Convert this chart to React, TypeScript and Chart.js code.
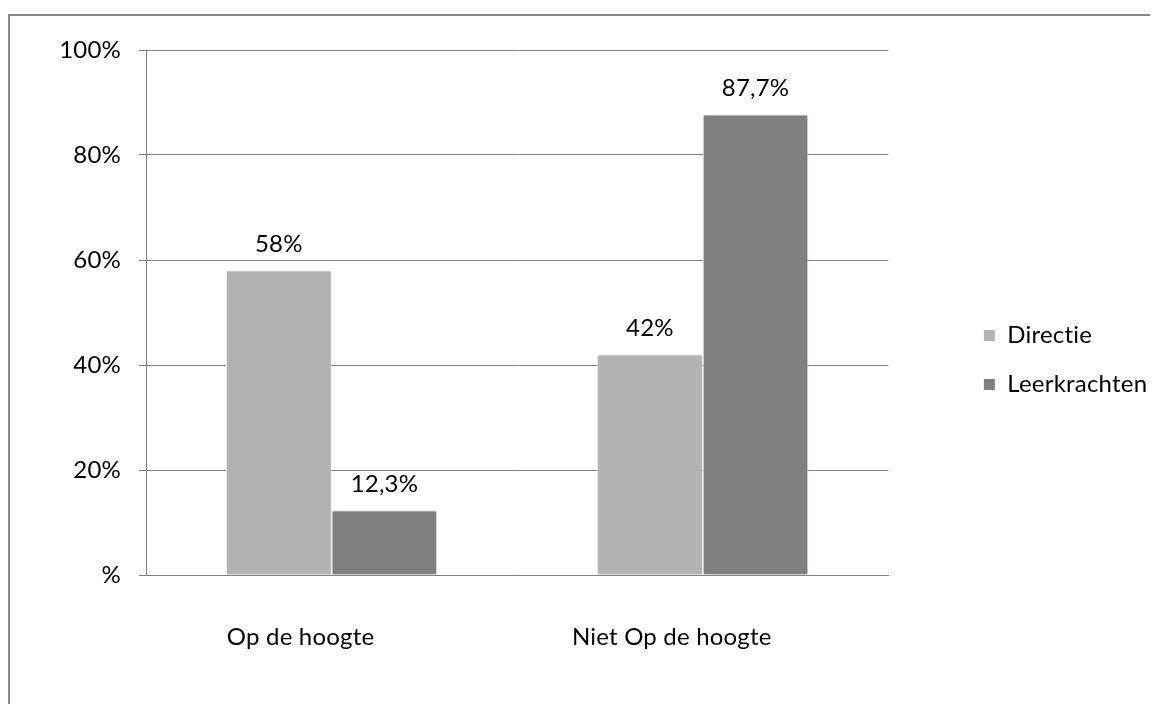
import React, { useEffect, useRef } from "react";
import { Chart, registerables } from "chart.js";

Chart.register(...registerables);

// Chart data
const categories = ["Op de hoogte", "Niet Op de hoogte"];
const seriesNames = ["Directie", "Leerkrachten"];
const directieValues = [58, 42];
const leerkrachtenValues = [12.3, 87.7];
const seriesColors = ["#b2b2b2", "#7f7f7f"];
const yTickValues = [0, 20, 40, 60, 80, 100];

const FONT = "Lato, 'Open Sans', sans-serif";

const formatPct = (v: number) => (v === 0 ? "%" : String(v).replace(".", ",") + "%");

// A touch of letter spacing keeps the font from forming "ti" ligatures
const textSpacing = {
  id: "textSpacing",
  beforeDraw(chart: any) {
    (chart.ctx as any).letterSpacing = "0.2px";
  },
};

// Soft shadow behind the bars plus value labels above each bar
const barDecor = {
  id: "barDecor",
  beforeDatasetsDraw(chart: any) {
    const ctx = chart.ctx;
    ctx.save();
    ctx.shadowColor = "rgba(0,0,0,0.28)";
    ctx.shadowBlur = 3;
    ctx.shadowOffsetX = 0;
    ctx.shadowOffsetY = 0;
  },
  afterDatasetsDraw(chart: any) {
    const ctx = chart.ctx;
    ctx.restore();
    ctx.save();
    ctx.font = `24px ${FONT}`;
    ctx.fillStyle = "#000";
    ctx.textAlign = "center";
    ctx.textBaseline = "middle";
    chart.data.datasets.forEach((ds: any, di: number) => {
      const meta = chart.getDatasetMeta(di);
      meta.data.forEach((bar: any, i: number) => {
        ctx.fillText(formatPct(ds.data[i]), bar.x, bar.y - 26);
      });
    });
    ctx.restore();
  },
};

export default function App() {
  const canvasRef = useRef<HTMLCanvasElement | null>(null);

  useEffect(() => {
    if (!canvasRef.current) return;
    const chart = new Chart(canvasRef.current, {
      type: "bar",
      data: {
        labels: categories,
        datasets: [
          {
            label: seriesNames[0],
            data: directieValues,
            backgroundColor: seriesColors[0],
            borderColor: "#ffffff",
            borderWidth: 1,
          },
          {
            label: seriesNames[1],
            data: leerkrachtenValues,
            backgroundColor: seriesColors[1],
            borderColor: "#ffffff",
            borderWidth: 1,
          },
        ],
      },
      options: {
        responsive: false,
        animation: false,
        devicePixelRatio: 1,
        layout: { padding: { left: 0, right: 10, top: 34, bottom: 34 } },
        datasets: {
          bar: { barPercentage: 1, categoryPercentage: 0.569 },
        },
        plugins: {
          tooltip: { enabled: false },
          title: { display: false },
          legend: {
            position: "right",
            align: "center",
            labels: {
              boxWidth: 12,
              boxHeight: 12,
              padding: 25,
              color: "#000",
              font: { family: FONT, size: 24 },
            },
          },
        },
        scales: {
          x: {
            grid: { display: false },
            border: { display: true, color: "#808080", width: 1 },
            ticks: {
              color: "#000",
              font: { family: FONT, size: 24 },
              padding: 40,
              labelOffset: -31,
              maxRotation: 0,
            },
            afterFit(s: any) {
              s.height = 95;
            },
          },
          y: {
            min: 0,
            max: 100,
            afterBuildTicks(s: any) {
              s.ticks = yTickValues.map((v) => ({ value: v }));
            },
            grid: {
              color: "#808080",
              lineWidth: 1,
              drawTicks: true,
              tickLength: 7,
            },
            border: { display: true, color: "#808080", width: 1 },
            ticks: {
              color: "#000",
              font: { family: FONT, size: 24 },
              padding: 18,
              callback: (v: any) => formatPct(Number(v)),
            },
            afterFit(s: any) {
              s.width = 136;
            },
          },
          gap: {
            type: "linear",
            position: "right",
            display: true,
            grid: { display: false },
            border: { display: false },
            ticks: { display: false },
            afterFit(s: any) {
              s.width = 70;
            },
          },
        },
      } as any,
      plugins: [textSpacing, barDecor],
    });
    return () => chart.destroy();
  }, []);

  return (
    <div style={{ width: 1150, height: 696, overflow: "hidden" }}>
      <div
        style={{
          marginTop: 6,
          width: 1160,
          height: 720,
          border: "2px solid #878787",
        }}
      >
        <canvas ref={canvasRef} width={1148} height={688} style={{ display: "block" }} />
      </div>
    </div>
  );
}
